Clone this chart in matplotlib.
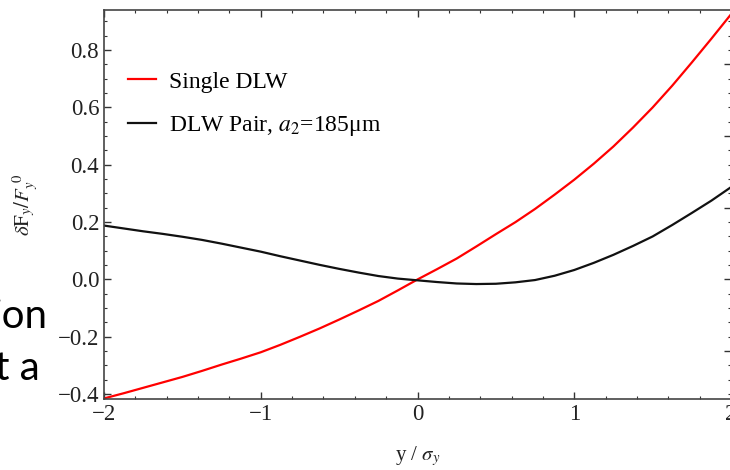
import matplotlib
matplotlib.use("Agg")
from matplotlib import pyplot as plt
from matplotlib.ticker import MultipleLocator

# valores
x = [-2.0, -1.875, -1.75, -1.625, -1.5, -1.375, -1.25, -1.125, -1.0,
     -0.875, -0.75, -0.625, -0.5, -0.375, -0.25, -0.125, 0.0,
     0.125, 0.25, 0.375, 0.5, 0.625, 0.75, 0.875, 1.0,
     1.125, 1.25, 1.375, 1.5, 1.625, 1.75, 1.875, 2.0]
single_dlw = [-0.415, -0.397, -0.378, -0.359, -0.340, -0.319, -0.297, -0.276, -0.254,
              -0.228, -0.200, -0.171, -0.140, -0.108, -0.075, -0.038, 0.0,
              0.036, 0.073, 0.115, 0.158, 0.200, 0.246, 0.296, 0.348,
              0.404, 0.464, 0.530, 0.600, 0.676, 0.757, 0.840, 0.925]
dlw_pair = [0.188, 0.178, 0.168, 0.159, 0.149, 0.138, 0.125, 0.111, 0.097,
            0.081, 0.066, 0.051, 0.037, 0.024, 0.012, 0.003, -0.003,
            -0.009, -0.014, -0.016, -0.015, -0.010, -0.002, 0.013, 0.033,
            0.058, 0.086, 0.117, 0.150, 0.190, 0.232, 0.275, 0.322]

x_ticks = [-2, -1, 0, 1, 2]
x_labels = ['\u22122', '\u22121', '0', '1', '2']
y_ticks = [-0.4, -0.2, 0.0, 0.2, 0.4, 0.6, 0.8]
y_labels = ['\u22120.4', '\u22120.2', '0.0', '0.2', '0.4', '0.6', '0.8']

plt.rcParams['font.family'] = ['Liberation Serif', 'DejaVu Serif']
plt.rcParams['mathtext.fontset'] = 'stix'

fig = plt.figure(figsize=(7.3, 4.7), dpi=100)
ax = fig.add_axes([104 / 730, 71 / 470, 627 / 730, 389 / 470])

ax.plot(x, single_dlw, color='#ff0000', lw=1.6, label='Single DLW')
ax.plot(x, dlw_pair, color='#111111', lw=1.6, label=r'DLW Pair, $a_2$=185μm')

ax.set_xlim(-2, 2)
ax.set_ylim(-0.417, 0.94)
ax.set_xticks(x_ticks)
ax.set_xticklabels(x_labels)
ax.set_yticks(y_ticks)
ax.set_yticklabels(y_labels)
ax.xaxis.set_minor_locator(MultipleLocator(0.2))
ax.yaxis.set_minor_locator(MultipleLocator(0.05))

# marco con ticks hacia dentro
ax.tick_params(which='both', direction='in', top=True, right=False,
               colors='#333333', labelcolor='#222222', labelsize=16.5)
ax.tick_params(which='major', length=5, width=1)
ax.tick_params(which='minor', length=2.5, width=0.8)
for s in ax.spines.values():
    s.set_color('#444444')
    s.set_linewidth(1.2)

# el lado derecho tiene otra division (cada 0.25)
ax2 = ax.twinx()
ax2.set_ylim(ax.get_ylim())
ax2.yaxis.set_major_locator(MultipleLocator(0.25))
ax2.yaxis.set_minor_locator(MultipleLocator(0.05))
ax2.tick_params(which='both', direction='in', colors='#333333', labelright=False)
ax2.tick_params(which='major', length=5, width=1)
ax2.tick_params(which='minor', length=2.5, width=0.8)
for s in ax2.spines.values():
    s.set_visible(False)

ax.set_xlabel(r'y / $\sigma_y$', fontsize=15, color='#222222', labelpad=14)
ax.set_ylabel(r'$\delta\mathrm{F}_y/F_y^{\ 0}$', fontsize=15, color='#222222', labelpad=12)

ax.legend(loc='center left', bbox_to_anchor=(128 / 730, 1 - 104.5 / 470),
          bbox_transform=fig.transFigure, frameon=False, fontsize=17,
          handlelength=1.2, handletextpad=0.55, labelspacing=0.9,
          borderpad=0, borderaxespad=0)

# texto de la diapositiva que queda detras del grafico
fig.text(48 / 730, 1 - 328 / 470, 'ion', fontsize=29, family='Lato', ha='right', va='baseline')
fig.text(40 / 730, 1 - 380 / 470, 't a', fontsize=29, family='Lato', ha='right', va='baseline')

fig.savefig('out.png', dpi=100)
